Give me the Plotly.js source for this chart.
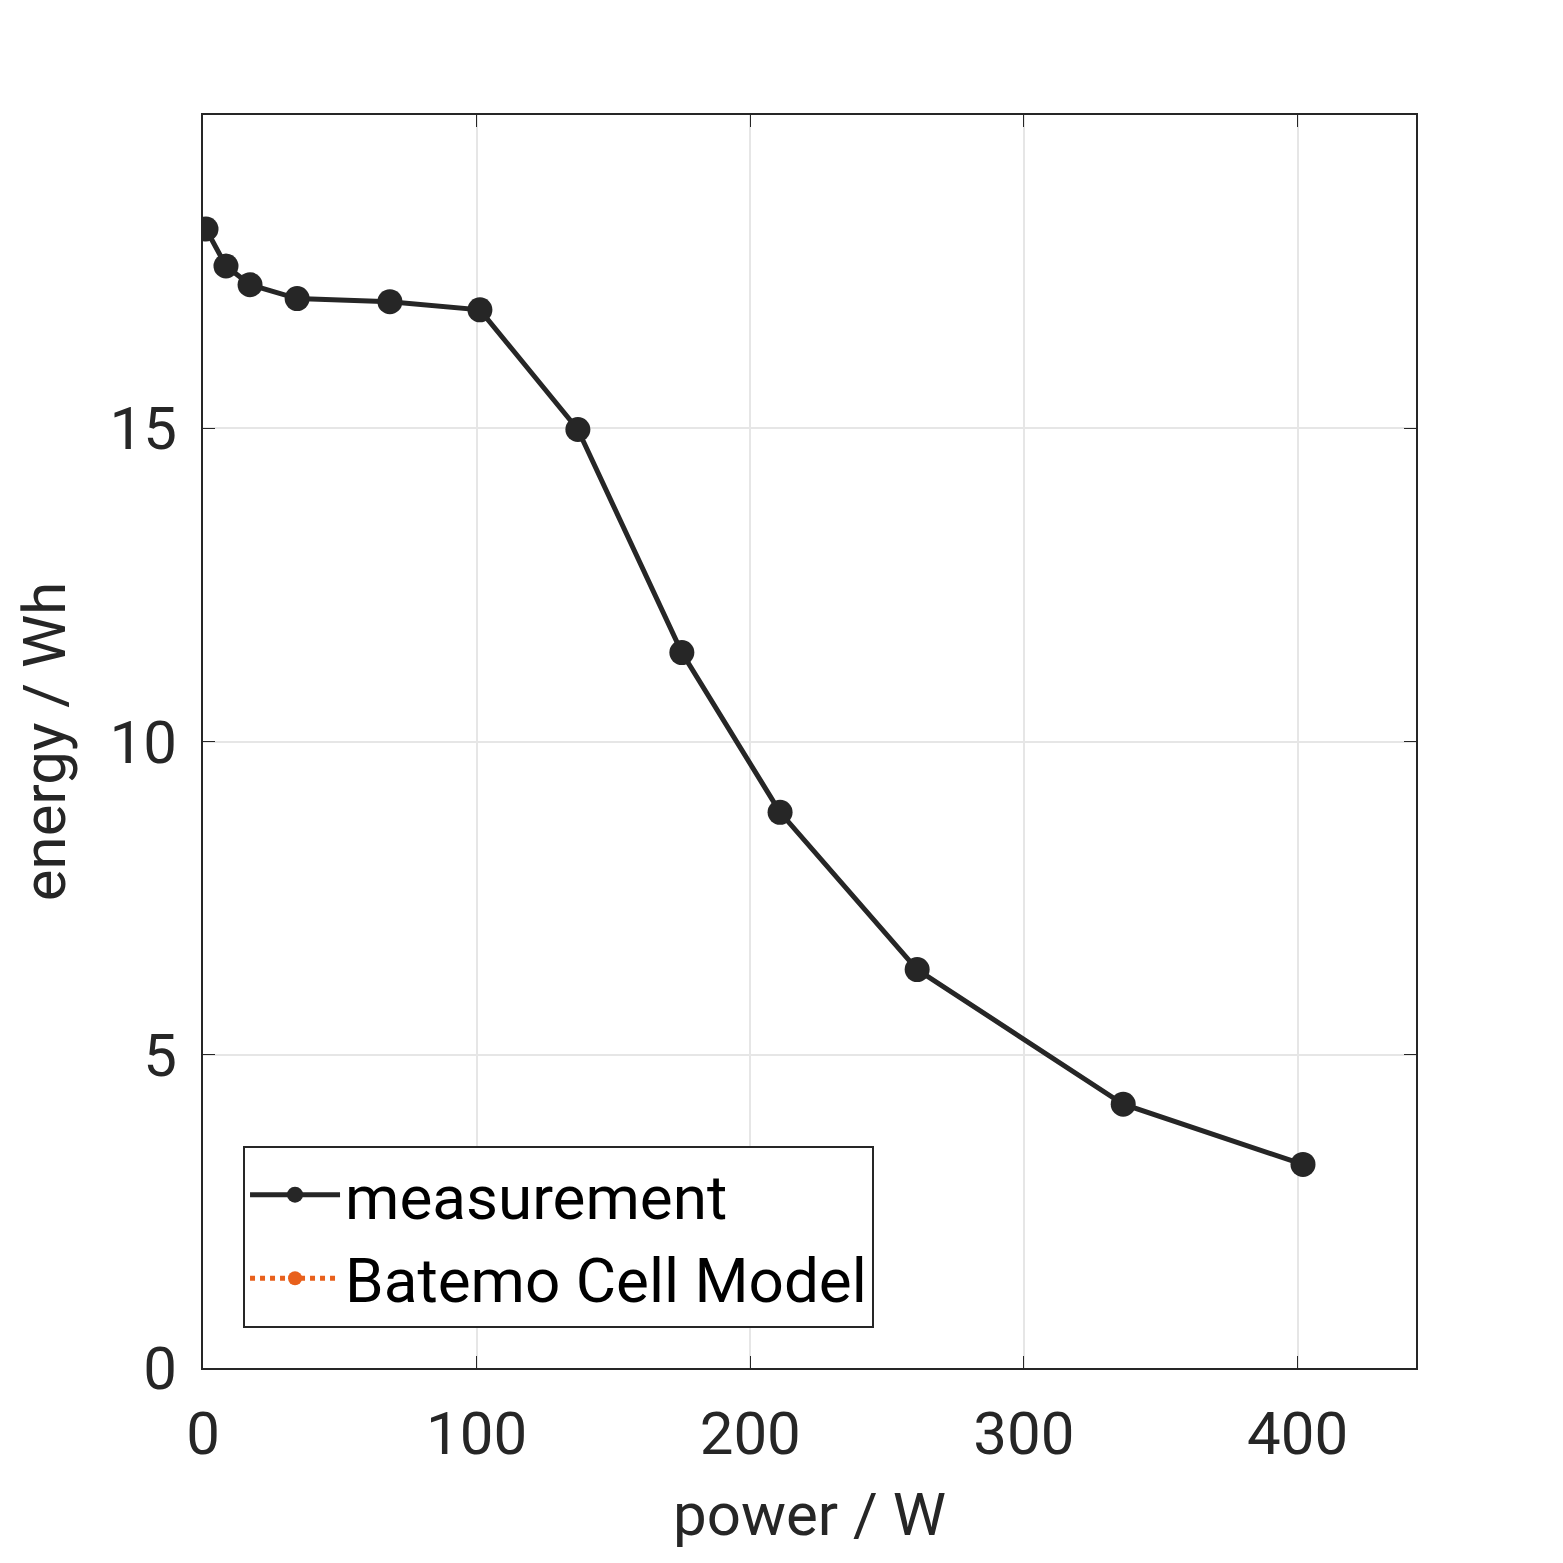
<!DOCTYPE html>
<html>
<head>
<script src="https://cdn.plot.ly/plotly-3.0.1.min.js"></script>
<style>body{margin:0}</style>
</head>
<body>
<div id="graph" style="width:1563px;height:1563px"></div>
<script>
let power = [1.1, 8.4, 17.2, 34.4, 68.3, 101.2, 137, 175, 210.9, 261, 336.3, 402]
let energy = [18.18, 17.59, 17.29, 17.07, 17.02, 16.89, 14.98, 11.42, 8.87, 6.36, 4.21, 3.25]
let modelPower = [null]
let modelEnergy = [null]

let ink = '#262626'
let data = [{
    x: power, y: energy, type: 'scatter', mode: 'lines+markers', name: 'measurement',
    line: {color: ink, width: 5}, marker: {color: ink, size: 25}
}, {
    x: modelPower, y: modelEnergy, type: 'scatter', mode: 'lines+markers', name: 'Batemo Cell Model',
    line: {color: '#e8601c', width: 5, dash: 'dot'}, marker: {color: '#e8601c', size: 14}
}]

let axis = {
    showline: true, mirror: 'ticks', linecolor: ink, linewidth: 2,
    ticks: 'inside', ticklen: 12, tickcolor: ink,
    gridcolor: '#e6e6e6', gridwidth: 2, zeroline: false,
    tickfont: {size: 60, color: ink}, ticklabelstandoff: 12
}
let layout = {
    width: 1563, height: 1563,
    font: {family: 'Roboto', color: ink},
    paper_bgcolor: 'white', plot_bgcolor: 'white',
    margin: {l: 203, r: 147, t: 115, b: 195},
    showlegend: true,
    legend: {
        x: 0.033, y: 0.032, xanchor: 'left', yanchor: 'bottom',
        bgcolor: 'white', bordercolor: ink, borderwidth: 2,
        font: {size: 62, color: 'black'}, itemwidth: 90
    },
    xaxis: Object.assign({}, axis, {range: [0, 443.3], tickvals: [0, 100, 200, 300, 400],
        title: {text: 'power / W', font: {size: 60, color: ink}, standoff: 25}}),
    yaxis: Object.assign({}, axis, {range: [0, 20], tickvals: [0, 5, 10, 15],
        title: {text: 'energy / Wh', font: {size: 60, color: ink}, standoff: 25}})
}
Plotly.newPlot('graph', data, layout, {displayModeBar: false})
</script>
</body>
</html>
